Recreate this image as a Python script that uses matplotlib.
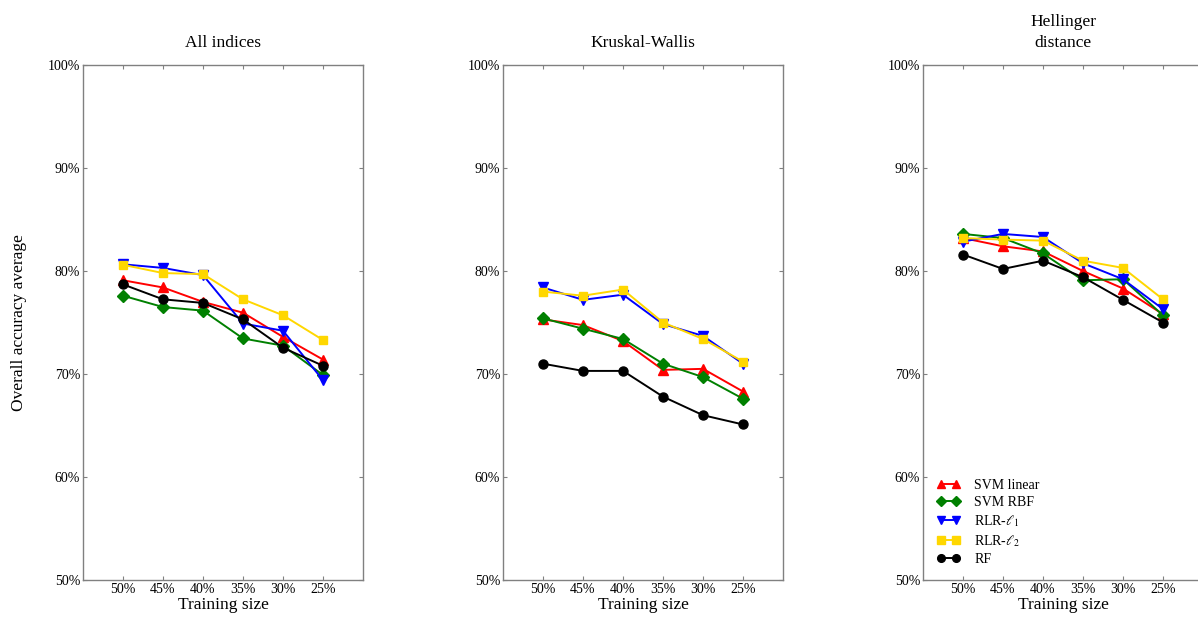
import matplotlib
matplotlib.use("Agg")
import matplotlib.pyplot as plt

plt.rcParams['font.family'] = ['Liberation Serif', 'DejaVu Serif']
plt.rcParams['mathtext.fontset'] = 'stix'

# training sizes on the x axis
sizes = ['50%', '45%', '40%', '35%', '30%', '25%']
titles = ['All indices', 'Kruskal-Wallis', 'Hellinger\ndistance']

# overall accuracy (%) per feature selection method
svm_linear = [
    [79.1, 78.4, 77.0, 75.95, 73.6, 71.4],
    [75.3, 74.75, 73.2, 70.4, 70.5, 68.3],
    [83.2, 82.4, 81.9, 80.0, 78.3, 75.8],
]
svm_rbf = [
    [77.6, 76.5, 76.15, 73.45, 72.75, 69.9],
    [75.4, 74.4, 73.4, 71.0, 69.7, 67.6],
    [83.6, 83.2, 81.7, 79.1, 79.2, 75.7],
]
rlr_l1 = [
    [80.65, 80.3, 79.6, 74.9, 74.2, 69.4],
    [78.4, 77.2, 77.7, 74.85, 73.7, 71.0],
    [82.85, 83.6, 83.3, 80.75, 79.2, 76.3],
]
rlr_l2 = [
    [80.6, 79.8, 79.7, 77.25, 75.7, 73.3],
    [78.0, 77.6, 78.2, 75.0, 73.4, 71.2],
    [83.2, 83.05, 82.95, 81.0, 80.3, 77.25],
]
rf = [
    [78.7, 77.25, 76.9, 75.3, 72.55, 70.8],
    [71.0, 70.3, 70.3, 67.8, 66.0, 65.1],
    [81.6, 80.2, 81.0, 79.4, 77.2, 75.0],
]

series = [
    ('SVM linear', svm_linear, '^', '#ff0000', 6.5),
    ('SVM RBF', svm_rbf, 'D', '#008000', 6.0),
    (r'RLR-$\ell_1$', rlr_l1, 'v', '#0000ff', 6.5),
    (r'RLR-$\ell_2$', rlr_l2, 's', '#ffd700', 6.0),
    ('RF', rf, 'o', '#000000', 6.5),
]

W, H = 1198, 617
fig = plt.figure(figsize=(W / 100, H / 100), dpi=100)

x = list(range(1, len(sizes) + 1))
lefts = [83, 503, 923]
for i, left in enumerate(lefts):
    ax = fig.add_axes([left / W, 1 - 580 / H, 280 / W, 515 / H])
    for label, data, marker, color, ms in series:
        ax.plot(x, data[i], marker=marker, color=color, label=label,
                lw=1.4, ms=ms, mec=color)
    ax.set_xlim(0, 7)
    ax.set_ylim(50, 100)
    ax.set_xticks(x)
    ax.set_xticklabels(sizes)
    ax.set_yticks(range(50, 101, 10))
    ax.set_yticklabels([f'{v}%' for v in range(50, 101, 10)])
    ax.tick_params(direction='in', top=True, right=True, length=3,
                   color='#808080', labelsize=10, pad=2)
    for s in ax.spines.values():
        s.set_color('#808080')
        s.set_linewidth(1.0)
    ax.set_xlabel('Training size', fontsize=12.5, labelpad=1)
    ax.set_title(titles[i], fontsize=12.5, pad=13, linespacing=1.45)
    if i == 0:
        ax.set_ylabel('Overall accuracy average', fontsize=12.5, labelpad=15)
    if i == 2:
        ax.legend(loc='lower left', frameon=False, fontsize=10, numpoints=2,
                  markerscale=0.85, handlelength=1.7, handletextpad=1.0,
                  borderaxespad=0.6, labelspacing=0.3)

fig.savefig('out.png', dpi=100)
